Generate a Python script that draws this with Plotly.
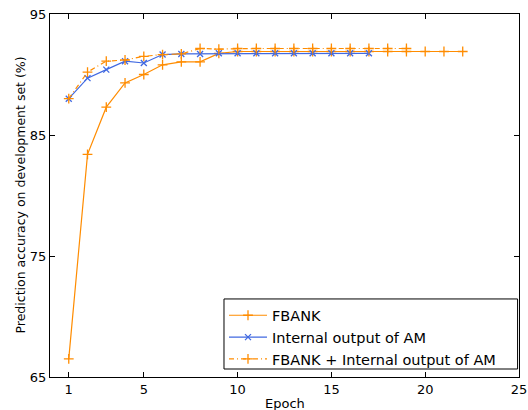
import plotly.graph_objects as go

epochs_fbank = list(range(1, 23))
acc_fbank = [66.5, 83.4, 87.3, 89.3, 90.0, 90.8, 91.05, 91.05, 91.75,
             91.9, 91.9, 91.9, 91.9, 91.9, 91.9, 91.9, 91.9, 91.9, 91.9, 91.9, 91.9, 91.9]

epochs_am = list(range(1, 18))
acc_am = [88.0, 89.7, 90.4, 91.1, 90.95, 91.65, 91.7, 91.7, 91.75, 91.75, 91.75,
          91.75, 91.75, 91.75, 91.75, 91.75, 91.75]

epochs_comb = list(range(1, 20))
acc_comb = [88.0, 90.2, 91.1, 91.2, 91.5, 91.65, 91.7, 92.15, 92.1, 92.15, 92.15,
            92.15, 92.15, 92.15, 92.15, 92.15, 92.15, 92.15, 92.15]

x_ticks = [1, 5, 10, 15, 20, 25]
y_ticks = [65, 75, 85, 95]

ORANGE = "#FF8C00"
BLUE = "#4169E1"

fig = go.Figure()
fig.add_trace(go.Scatter(
    x=epochs_fbank, y=acc_fbank, name="FBANK", mode="lines+markers",
    line=dict(color=ORANGE, width=1.2),
    marker=dict(symbol="cross-thin", size=7, line=dict(color=ORANGE, width=1.3)),
))
fig.add_trace(go.Scatter(
    x=epochs_am, y=acc_am, name="Internal output of AM", mode="lines+markers",
    line=dict(color=BLUE, width=1.2),
    marker=dict(symbol="x-thin", size=6, line=dict(color=BLUE, width=1.3)),
))
fig.add_trace(go.Scatter(
    x=epochs_comb, y=acc_comb, name="FBANK + Internal output of AM", mode="lines+markers",
    line=dict(color=ORANGE, width=1.2, dash="5px,3px,1px,3px"),
    marker=dict(symbol="cross-thin", size=7, line=dict(color=ORANGE, width=1.3)),
))

fig.update_layout(
    width=528, height=410,
    margin=dict(l=50, r=9, t=14, b=33),
    paper_bgcolor="white", plot_bgcolor="white",
    font=dict(family="DejaVu Sans", size=13, color="black"),
    showlegend=True,
    legend=dict(
        x=0.371, y=0.214, xanchor="left", yanchor="top",
        borderwidth=0, bgcolor="rgba(0,0,0,0)",
        font=dict(size=14.5), tracegroupgap=0, itemwidth=38,
    ),
    shapes=[
        dict(type="rect", xref="paper", yref="paper", x0=0.371, x1=0.997,
             y0=0.022, y1=0.215, line=dict(color="black", width=1),
             fillcolor="white", layer="below"),
    ],
    xaxis=dict(
        range=[0, 25], tickvals=x_ticks, ticktext=[str(t) for t in x_ticks],
        showgrid=False, zeroline=False, showline=True, linecolor="black", linewidth=1,
        mirror="allticks", ticks="inside", ticklen=5, tickcolor="black",
        automargin=False,
    ),
    yaxis=dict(
        range=[65, 95], tickvals=y_ticks, ticktext=[str(t) for t in y_ticks],
        showgrid=False, zeroline=False, showline=True, linecolor="black", linewidth=1,
        mirror="allticks", ticks="inside", ticklen=5, tickcolor="black",
        automargin=False,
    ),
    annotations=[
        dict(text="Epoch", x=0.5, y=0, xref="paper", yref="paper",
             xanchor="center", yanchor="top", yshift=-17, showarrow=False,
             font=dict(size=13)),
        dict(text="Prediction accuracy on development set (%)", x=0, y=0.5,
             xref="paper", yref="paper", xanchor="center", yanchor="middle",
             xshift=-30, textangle=-90, showarrow=False, font=dict(size=12.5)),
    ],
)

fig.write_html("out.html", config={"displayModeBar": False},
               post_script="document.body.style.margin='0';")
